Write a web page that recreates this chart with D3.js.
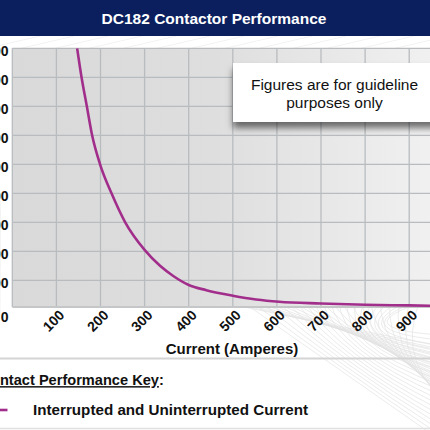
<!DOCTYPE html>
<html>
<head>
<meta charset="utf-8">
<script src="https://cdn.jsdelivr.net/npm/d3@7.9.0/dist/d3.min.js"></script>
<style>
  html, body { margin: 0; padding: 0; background: #fff; }
  svg { display: block; font-family: "Liberation Sans", Arial, sans-serif; }
</style>
</head>
<body>
<svg id="chart" width="430" height="430"></svg>
<script>
// chart values
const title = 'DC182 Contactor Performance';
const note = ['Figures are for guideline', 'purposes only'];
const xTicks = [100, 200, 300, 400, 500, 600, 700, 800, 900];
const yTicks = [0, 100, 200, 300, 400, 500, 600, 700, 800, 900];
const current = [147, 157, 169, 181, 199, 225, 256, 300, 335, 365, 400, 440, 500, 553, 605, 700, 800, 900, 960];
const rating  = [900, 800, 700, 600, 500, 400, 300, 205, 150, 115, 84, 66, 47, 34, 26, 20, 15.5, 13.4, 12];
const xTitle = 'Current (Amperes)';
const keyTitle = 'Contact Performance Key';
const keyLabel = 'Interrupted and Uninterrupted Current';

const data = current.map((c, i) => ({ x: c, y: rating[i] }));

const svg = d3.select('#chart');
const W = 430, H = 430;
const curveColor = '#a22e8c';

// plot frame (runs off the right edge like the reference crop)
const pL = 12.3, pT = 48.3, pB = 307, pR = 460;
const x = d3.scaleLinear().domain([0, 1000]).range([pL, pL + 441]);
const y = d3.scaleLinear().domain([0, 900]).range([pT + 261, pT]);

const defs = svg.append('defs');
const grad = defs.append('linearGradient').attr('id', 'plotGrad');
grad.append('stop').attr('offset', '0%').attr('stop-color', '#d9d9d9');
grad.append('stop').attr('offset', '45%').attr('stop-color', '#dedede');
grad.append('stop').attr('offset', '100%').attr('stop-color', '#f3f3f3');

const shadow = defs.append('filter').attr('id', 'shadow')
  .attr('x', '-20%').attr('y', '-20%').attr('width', '140%').attr('height', '160%');
shadow.append('feDropShadow').attr('dx', 0).attr('dy', 6).attr('stdDeviation', 3.5)
  .attr('flood-color', '#000').attr('flood-opacity', 0.55);

defs.append('clipPath').attr('id', 'plotClip')
  .append('rect').attr('x', pL).attr('y', pT).attr('width', pR - pL).attr('height', pB - pT);

// faint decorative mesh behind everything
const mesh = svg.append('g').attr('fill', 'none').attr('stroke', '#e2e2e2').attr('stroke-width', 0.7);
d3.range(22).forEach(i => {
  mesh.append('path')
    .attr('d', `M${210 + i * 10},${300} Q${330 + i * 3},${325 + i * 2} ${460},${350 + i * 3}`);
  mesh.append('path')
    .attr('d', `M${240 + i * 9},${300} Q${340},${370 - i * 2} ${440},${440 - i * 5}`);
});
d3.range(14).forEach(i => {
  mesh.append('path').attr('stroke', '#ededed')
    .attr('d', `M${-20 + i * 34},${50} L${40 + i * 34},${36}`);
  mesh.append('path').attr('stroke', '#ededed')
    .attr('d', `M${-10},${150 + i * 12} Q${8},${190 + i * 8} ${-6},${260 + i * 6}`);
});

// title bar
svg.append('rect').attr('x', 0).attr('y', 0).attr('width', W).attr('height', 36).attr('fill', '#0b1f5e');
svg.append('text').attr('x', 214).attr('y', 23.5).attr('text-anchor', 'middle')
  .attr('fill', '#fff').attr('font-weight', 'bold').attr('font-size', 15.5).text(title);

// plot background
svg.append('rect').attr('x', pL).attr('y', pT).attr('width', pR - pL).attr('height', pB - pT)
  .attr('fill', 'url(#plotGrad)');

// grid
const grid = svg.append('g').attr('stroke', '#b9bcbf').attr('stroke-width', 1.3);
grid.selectAll('line.v').data(d3.range(0, 1100, 100)).join('line').attr('class', 'v')
  .attr('x1', d => x(d)).attr('x2', d => x(d)).attr('y1', pT).attr('y2', pB);
grid.selectAll('line.h').data(yTicks.filter(d => d > 0)).join('line').attr('class', 'h')
  .attr('x1', pL).attr('x2', pR).attr('y1', d => y(d)).attr('y2', d => y(d));
grid.append('line').attr('x1', pL).attr('x2', pR).attr('y1', pB).attr('y2', pB).attr('stroke', '#c4c6c8').attr('stroke-width', 2);

// y tick labels (cropped by the left edge, as in the reference)
svg.append('g').selectAll('text').data(yTicks).join('text')
  .attr('x', 8.6)
  .attr('y', d => d === 0 ? y(d) + 8 : y(d) + 2.5)
  .attr('dy', '0.35em')
  .attr('text-anchor', 'end').attr('font-weight', 'bold').attr('font-size', 14).attr('fill', '#111')
  .text(d => d);

// x tick labels, rotated
svg.append('g').selectAll('text').data(xTicks).join('text')
  .attr('transform', d => `translate(${x(d) + 5.5},${312.5}) rotate(-45)`)
  .attr('text-anchor', 'end').attr('dy', '0.35em')
  .attr('font-weight', 'bold').attr('font-size', 14).attr('fill', '#111')
  .text(d => d);

// curve
const line = d3.line().x(d => x(d.x)).y(d => y(d.y)).curve(d3.curveMonotoneX);
svg.append('path').datum(data).attr('clip-path', 'url(#plotClip)')
  .attr('fill', 'none').attr('stroke', curveColor).attr('stroke-width', 2.6).attr('d', line);

// guideline note
svg.append('rect').attr('x', 233).attr('y', 63).attr('width', 210).attr('height', 59)
  .attr('fill', '#fff').attr('filter', 'url(#shadow)');
svg.append('text').attr('x', 334.5).attr('y', 85).attr('dy', '0.35em').attr('text-anchor', 'middle')
  .attr('font-size', 15.5).attr('fill', '#111').text(note[0]);
svg.append('text').attr('x', 334.5).attr('y', 103).attr('dy', '0.35em').attr('text-anchor', 'middle')
  .attr('font-size', 15.5).attr('fill', '#111').text(note[1]);

// x axis title
svg.append('text').attr('x', 232).attr('y', 349).attr('dy', '0.35em').attr('text-anchor', 'middle')
  .attr('font-weight', 'bold').attr('font-size', 15).attr('fill', '#111').text(xTitle);

// separators
svg.append('line').attr('x1', 0).attr('x2', W).attr('y1', 358.5).attr('y2', 358.5)
  .attr('stroke', '#d4d4d4').attr('stroke-width', 2);
svg.append('line').attr('x1', 0).attr('x2', W).attr('y1', 428.5).attr('y2', 428.5)
  .attr('stroke', '#e0e0e0').attr('stroke-width', 1.5);

// key
const keyText = svg.append('text').attr('x', -19.5).attr('y', 380).attr('dy', '0.35em')
  .attr('font-weight', 'bold').attr('font-size', 14.6).attr('fill', '#111');
keyText.append('tspan').attr('text-decoration', 'underline').text(keyTitle);
keyText.append('tspan').text(':');

svg.append('line').attr('x1', -10).attr('x2', 7.5).attr('y1', 410).attr('y2', 410)
  .attr('stroke', curveColor).attr('stroke-width', 2.6);
svg.append('text').attr('x', 33).attr('y', 410).attr('dy', '0.35em')
  .attr('font-weight', 'bold').attr('font-size', 15.2).attr('fill', '#111').text(keyLabel);
</script>
</body>
</html>
